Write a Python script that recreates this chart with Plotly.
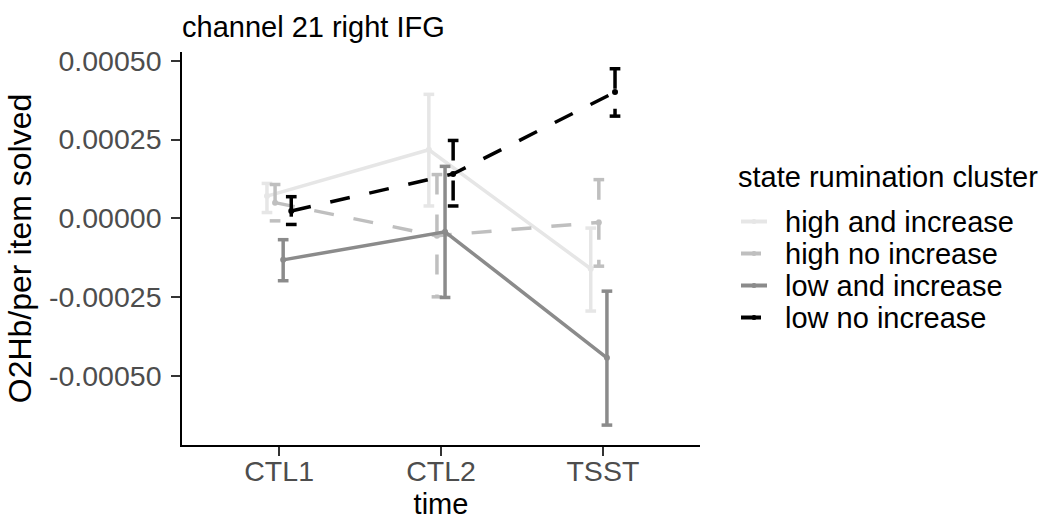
import plotly.graph_objects as go

# Measurement conditions on the x axis
times = ["CTL1", "CTL2", "TSST"]

# Clusters (legend order) and their styling
clusters = ["high and increase", "high no increase", "low and increase", "low no increase"]
colors = ["#E6E6E6", "#BFBFBF", "#8B8B8B", "#000000"]
dashes = ["solid", "20px,20px", "solid", "20px,20px"]

# Cluster means and error-bar limits per time point
mean_high_inc = [0.0000709, 0.0002175, -0.0001590]
low_high_inc = [0.0000188, 0.0000396, -0.0002930]
upp_high_inc = [0.0001110, 0.0003930, -0.0000304]

mean_high_no = [0.0000502, -0.0000545, -0.0000126]
low_high_no = [-0.0000075, -0.0002480, -0.0001510]
upp_high_no = [0.0001076, 0.0001390, 0.0001230]

mean_low_inc = [-0.0001310, -0.0000420, -0.0004410]
low_low_inc = [-0.0001970, -0.0002500, -0.0006540]
upp_low_inc = [-0.0000671, 0.0001650, -0.0002300]

mean_low_no = [0.0000239, 0.0001410, 0.0004000]
low_low_no = [-0.0000189, 0.0000396, 0.0003240]
upp_low_no = [0.0000690, 0.0002470, 0.0004740]

means = [mean_high_inc, mean_high_no, mean_low_inc, mean_low_no]
lowers = [low_high_inc, low_high_no, low_low_inc, low_low_no]
uppers = [upp_high_inc, upp_high_no, upp_low_inc, upp_low_no]

# Y axis ticks
y_tick_vals = [0.0005, 0.00025, 0.0, -0.00025, -0.0005]
y_tick_text = ["0.00050", "0.00025", "0.00000", "-0.00025", "-0.00050"]

W, H = 1051, 520
ML, MR, MT, MB = 182, 351, 52, 75
DODGE = 0.2
CAP = 0.033
LW = 3.5


def px_x(px):
    return (px - ML) / (W - ML - MR)


def px_y(py):
    return (H - MB - py) / (H - MT - MB)


fig = go.Figure()
n = len(clusters)
for i, name in enumerate(clusters):
    off = (i - (n - 1) / 2) * DODGE / n
    xs = [k + off for k in range(len(times))]

    # error bars: top cap, vertical stem, bottom cap as separate sub-paths
    ex, ey = [], []
    for x, lo, hi in zip(xs, lowers[i], uppers[i]):
        ex += [x - CAP, x + CAP, None, x, x, None, x - CAP, x + CAP, None]
        ey += [hi, hi, None, hi, lo, None, lo, lo, None]
    fig.add_trace(go.Scatter(
        x=ex, y=ey, mode="lines", showlegend=False, hoverinfo="skip",
        line=dict(color=colors[i], width=LW, dash=dashes[i]),
    ))

    fig.add_trace(go.Scatter(
        x=xs, y=means[i], mode="lines+markers", name=name, showlegend=False,
        line=dict(color=colors[i], width=LW, dash=dashes[i]),
        marker=dict(color=colors[i], size=6),
    ))

# Legend block drawn on the right of the panel
LEG_FONT = 29
shapes, annots = [], []
annots.append(dict(
    text="state rumination cluster", x=px_x(736), y=px_y(177),
    xref="paper", yref="paper", xanchor="left", yanchor="middle",
    showarrow=False, font=dict(size=LEG_FONT, color="#000000"),
))
key_y = [221.5, 253.5, 285.5, 317.5]
for i, name in enumerate(clusters):
    yk = px_y(key_y[i])
    shapes.append(dict(
        type="line", xref="paper", yref="paper",
        x0=px_x(741), x1=px_x(767), y0=yk, y1=yk,
        line=dict(color=colors[i], width=4, dash=dashes[i]),
    ))
    shapes.append(dict(
        type="circle", xref="paper", yref="paper",
        x0=px_x(751.5), x1=px_x(756.5), y0=px_y(key_y[i] + 2.5), y1=px_y(key_y[i] - 2.5),
        fillcolor=colors[i], line=dict(width=0),
    ))
    annots.append(dict(
        text=name, x=px_x(783), y=yk,
        xref="paper", yref="paper", xanchor="left", yanchor="middle",
        showarrow=False, font=dict(size=LEG_FONT, color="#000000"),
    ))

fig.update_layout(
    width=W, height=H,
    margin=dict(l=ML, r=MR, t=MT, b=MB),
    paper_bgcolor="white", plot_bgcolor="white",
    font=dict(family="Liberation Sans, Arial, sans-serif", color="#000000"),
    title=dict(
        text="channel 21 right IFG", font=dict(size=29, color="#000000"),
        x=182 / W, xanchor="left", xref="container",
        y=1 - 27 / H, yanchor="middle", yref="container",
    ),
    showlegend=False,
    shapes=shapes,
    annotations=annots,
)

fig.update_xaxes(
    range=[-0.6, 2.6], tickvals=list(range(len(times))), ticktext=times,
    showgrid=False, zeroline=False, automargin=False,
    showline=True, linecolor="#000000", linewidth=1.6,
    ticks="outside", ticklen=9, tickwidth=1.6, tickcolor="#333333",
    tickfont=dict(size=28.5, color="#4D4D4D"), ticklabelstandoff=-9,
    title=dict(text="time", font=dict(size=29, color="#000000"), standoff=10),
)
fig.update_yaxes(
    range=[-0.000717, 0.000527], tickvals=y_tick_vals, ticktext=y_tick_text,
    showgrid=False, zeroline=False, automargin=False,
    showline=True, linecolor="#000000", linewidth=1.6,
    ticks="outside", ticklen=9, tickwidth=1.6, tickcolor="#333333",
    tickfont=dict(size=28.5, color="#4D4D4D"), ticklabelstandoff=4,
    title=dict(text="O2Hb/per item solved", font=dict(size=32, color="#000000"), standoff=8),
)

fig.write_html("out.html")
